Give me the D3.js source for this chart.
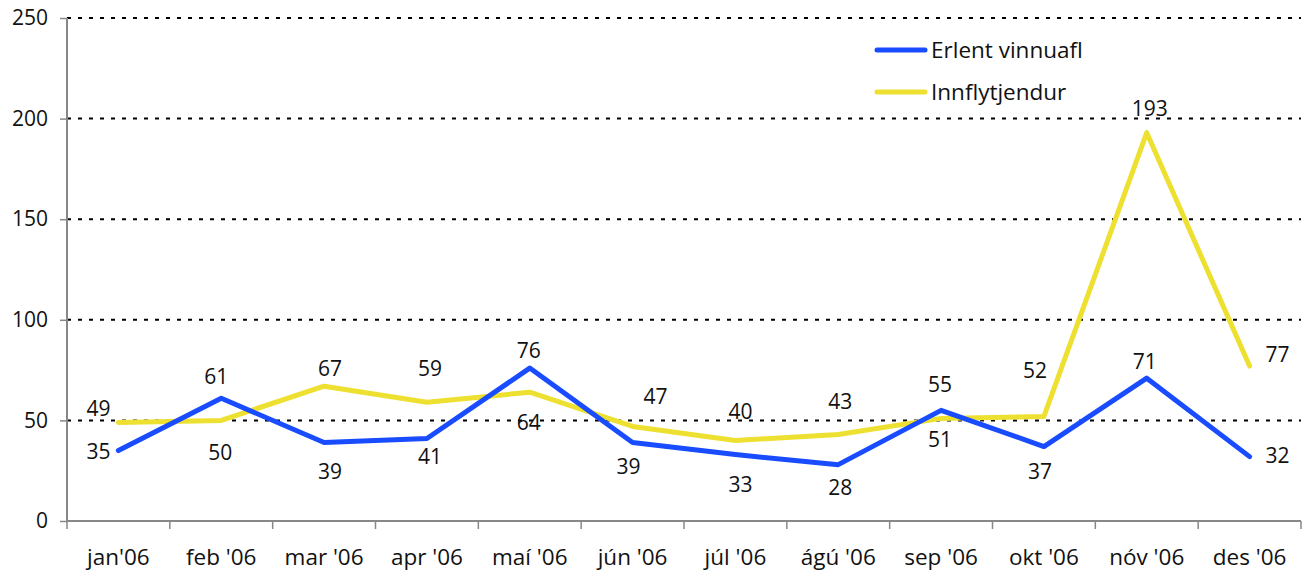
<!DOCTYPE html>
<html>
<head>
<meta charset="utf-8">
<script src="https://cdn.jsdelivr.net/npm/d3@7"></script>
<style>
    body { margin: 0; background: #fff; }
    svg text { font-family: "Open Sans", "Noto Sans", sans-serif; fill: #111; }
</style>
</head>
<body>
<div id="chart"></div>
<script>
    // categories and series
    var months = ["jan'06", "feb '06", "mar '06", "apr '06", "maí '06", "jún '06", "júl '06", "ágú '06", "sep '06", "okt '06", "nóv '06", "des '06"];
    var erlent = [35, 61, 39, 41, 76, 39, 33, 28, 55, 37, 71, 32];
    var innflytjendur = [49, 50, 67, 59, 64, 47, 40, 43, 51, 52, 193, 77];
    var yTicks = [0, 50, 100, 150, 200, 250];

    // label offsets (px) relative to each point, as placed in the original
    var erlentLabelPos = [[-20, 8], [-5, -14], [6, 36], [3, 25], [-1, -10], [-4, 31], [5, 37], [2, 30], [-1, -18], [-4, 32], [-2, -9], [28, 6]];
    var innLabelPos = [[-20, -6], [-1, 40], [6, -10], [3, -26], [-1, 38], [23, -22], [5, -22], [2, -25], [-1, 29], [-9, -38], [3, -17], [28, -4]];

    var colorErlent = "#1a4cff";
    var colorInn = "#eee030";

    var margin = { top: 18, right: 12, bottom: 56, left: 67 };
    var W = 1313, H = 577;
    var width = W - margin.left - margin.right;
    var height = H - margin.top - margin.bottom;

    var svg = d3.select("#chart").append("svg")
        .attr("width", W)
        .attr("height", H);
    var g = svg.append("g")
        .attr("transform", "translate(" + margin.left + "," + margin.top + ")");

    var x = d3.scaleBand().domain(months).range([0, width]);
    var y = d3.scaleLinear().domain([0, 250]).range([height, 0]);
    var cx = function(m) { return x(m) + x.bandwidth() / 2; };

    // dotted gridlines
    g.selectAll(".grid")
        .data(yTicks.filter(function(d) { return d > 0; }))
        .enter().append("line")
        .attr("x1", 0).attr("x2", width)
        .attr("y1", function(d) { return y(d); })
        .attr("y2", function(d) { return y(d); })
        .attr("stroke", "#000")
        .attr("stroke-width", 2)
        .attr("stroke-dasharray", "4,7");

    // y axis
    var yAxis = g.append("g")
        .call(d3.axisLeft(y).tickValues(yTicks).tickSize(7).tickPadding(12));
    yAxis.select(".domain").attr("stroke", "#888").attr("stroke-width", 2).attr("d", "M0," + height + "V0");
    yAxis.selectAll(".tick line").attr("stroke", "#888").attr("stroke-width", 1.5);
    yAxis.selectAll("text").style("font-size", "21px").attr("fill", "#111");

    // x axis with ticks at band boundaries
    var xAxis = g.append("g")
        .attr("transform", "translate(0," + height + ")");
    xAxis.append("line")
        .attr("x1", 0).attr("x2", width)
        .attr("stroke", "#888").attr("stroke-width", 2);
    var bounds = months.map(function(m) { return x(m); }).concat([width]);
    xAxis.selectAll(".xt")
        .data(bounds)
        .enter().append("line")
        .attr("x1", function(d) { return d; })
        .attr("x2", function(d) { return d; })
        .attr("y1", 0).attr("y2", 8)
        .attr("stroke", "#888").attr("stroke-width", 1.5);
    xAxis.selectAll(".xl")
        .data(months)
        .enter().append("text")
        .attr("x", function(d) { return cx(d); })
        .attr("y", 44)
        .attr("text-anchor", "middle")
        .style("font-size", "22.5px")
        .text(function(d) { return d; });

    // lines
    function drawSeries(values, color) {
        var line = d3.line()
            .x(function(d, i) { return cx(months[i]); })
            .y(function(d) { return y(d); });
        g.append("path")
            .datum(values)
            .attr("fill", "none")
            .attr("stroke", color)
            .attr("stroke-width", 5)
            .attr("stroke-linecap", "round")
            .attr("stroke-linejoin", "round")
            .attr("d", line);
    }
    drawSeries(innflytjendur, colorInn);
    drawSeries(erlent, colorErlent);

    // data labels
    function drawLabels(values, pos) {
        g.selectAll(null)
            .data(values)
            .enter().append("text")
            .attr("x", function(d, i) { return cx(months[i]) + pos[i][0]; })
            .attr("y", function(d, i) { return y(d) + pos[i][1]; })
            .attr("text-anchor", "middle")
            .style("font-size", "21px")
            .text(function(d) { return d; });
    }
    drawLabels(erlent, erlentLabelPos);
    drawLabels(innflytjendur, innLabelPos);

    // legend
    var legend = svg.append("g").attr("transform", "translate(877,50)");
    [["Erlent vinnuafl", colorErlent], ["Innflytjendur", colorInn]].forEach(function(item, i) {
        legend.append("line")
            .attr("x1", 0).attr("x2", 48)
            .attr("y1", i * 42).attr("y2", i * 42)
            .attr("stroke", item[1]).attr("stroke-width", 5)
            .attr("stroke-linecap", "round");
        legend.append("text")
            .attr("x", 54).attr("y", i * 42 + 8)
            .style("font-size", "22.5px")
            .text(item[0]);
    });
</script>
</body>
</html>
